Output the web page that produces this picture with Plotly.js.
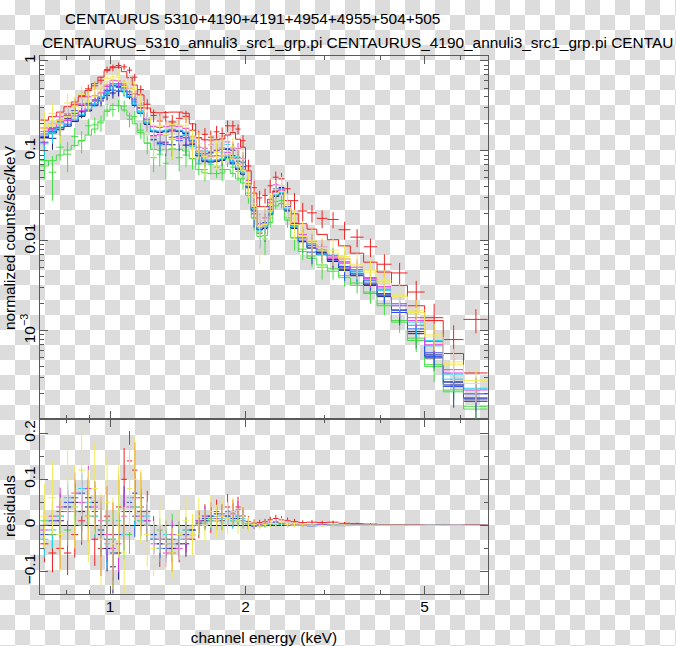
<!DOCTYPE html>
<html>
<head>
<meta charset="utf-8">
<script src="https://cdn.plot.ly/plotly-3.0.1.min.js"></script>
<style>
html,body{margin:0;padding:0;overflow:hidden;width:676px;height:646px;}
body{background:repeating-conic-gradient(#dcdcdc 0% 25%, #ffffff 0% 50%) 0 0/30px 30px;}
#chart{width:676px;height:646px;}
</style>
</head>
<body>
<div id="chart"></div>
<script>
// ---------- text ----------
const titleMain = 'CENTAURUS 5310+4190+4191+4954+4955+504+505';
const titleFiles = 'CENTAURUS_5310_annuli3_src1_grp.pi CENTAURUS_4190_annuli3_src1_grp.pi CENTAU';
const xTitle = 'channel energy (keV)';
const yTitleTop = 'normalized counts/sec/keV';
const yTitleBottom = 'residuals';

// ---------- tick labels ----------
const xTickVals = [1, 2, 5];
const xTickText = ['1', '2', '5'];
const xMinorVals = [0.7, 0.8, 0.9, 3, 4, 6];
const yTopTickVals = [0.001, 0.01, 0.1, 1];
const yTopTickText = ['10<sup>\u22123</sup>', '0.01', '0.1', '1'];
const yTopMinorVals = [0.0002,0.0003,0.0004,0.0005,0.0006,0.0007,0.0008,0.0009,
  0.002,0.003,0.004,0.005,0.006,0.007,0.008,0.009,
  0.02,0.03,0.04,0.05,0.06,0.07,0.08,0.09,
  0.2,0.3,0.4,0.5,0.6,0.7,0.8,0.9];
const yResTickVals = [-0.1, 0, 0.1, 0.2];
const yResTickText = ['\u22120.1', '0', '0.1', '0.2'];
const yResMinorVals = [-0.05, 0.05, 0.15];

// ---------- energy bins (keV) ----------
const binEdges = [0.70,0.73,0.76,0.79,0.82,0.85,0.88,0.91,0.94,0.97,1.00,1.03,1.06,1.09,1.12,1.15,1.19,1.23,1.27,1.31,
  1.35,1.40,1.45,1.50,1.55,1.60,1.65,1.70,1.75,1.80,1.85,1.90,1.95,2.00,2.06,2.12,2.18,2.24,2.30,2.37,
  2.44,2.52,2.62,2.74,2.88,3.04,3.22,3.42,3.66,3.92,4.22,4.58,5.00,5.50,6.10,6.90];

// ---------- models (normalized counts/sec/keV) ----------
const modelNavy = [0.140,0.158,0.172,0.188,0.212,0.242,0.278,0.318,0.380,0.465,
  0.530,0.522,0.462,0.395,0.320,0.262,0.198,0.163,0.160,0.163,
  0.167,0.165,0.156,0.127,0.088,0.076,0.075,0.076,0.078,0.084,
  0.072,0.062,0.055,0.039,0.0215,0.0132,0.0137,0.0195,0.0312,0.0332,
  0.0215,0.0137,0.0098,0.0083,0.0070,0.0059,0.0050,0.0041,0.0032,0.0024,
  0.0016,0.00098,0.00050,0.00025,0.000165];
const modelRed = [0.220,0.240,0.270,0.310,0.350,0.400,0.470,0.560,0.660,0.780,
  0.860,0.850,0.760,0.650,0.540,0.420,0.300,0.268,0.265,0.268,
  0.270,0.270,0.262,0.200,0.140,0.133,0.132,0.133,0.136,0.150,
  0.160,0.135,0.110,0.060,0.034,0.024,0.024,0.029,0.036,0.037,
  0.028,0.020,0.0155,0.0135,0.0118,0.0103,0.0088,0.0073,0.0058,0.0045,
  0.0032,0.0019,0.0013,0.00056,0.00034];
const modelGreen = [0.068,0.078,0.090,0.102,0.115,0.130,0.150,0.175,0.215,0.275,
  0.320,0.318,0.285,0.245,0.200,0.160,0.122,0.104,0.102,0.103,
  0.105,0.104,0.100,0.082,0.062,0.057,0.056,0.056,0.057,0.062,
  0.056,0.049,0.044,0.032,0.018,0.0112,0.0115,0.0160,0.0245,0.0260,
  0.0170,0.0108,0.0076,0.0064,0.0054,0.0046,0.0039,0.0032,0.0026,0.0019,
  0.00125,0.00078,0.00040,0.00021,0.000135];
const modelBlue = [0.145,0.165,0.180,0.195,0.220,0.250,0.285,0.325,0.390,0.470,
  0.535,0.525,0.470,0.405,0.330,0.270,0.205,0.168,0.165,0.168,
  0.172,0.170,0.160,0.130,0.090,0.078,0.077,0.078,0.080,0.086,
  0.074,0.064,0.057,0.040,0.022,0.0135,0.0140,0.020,0.032,0.034,
  0.022,0.0140,0.0100,0.0085,0.0072,0.0061,0.0052,0.0043,0.0034,0.0025,
  0.0017,0.00105,0.00052,0.00027,0.00018];
const modelCyan = [0.150,0.168,0.185,0.200,0.225,0.255,0.292,0.335,0.400,0.485,
  0.545,0.535,0.470,0.400,0.330,0.270,0.205,0.170,0.166,0.170,
  0.174,0.172,0.162,0.132,0.092,0.080,0.079,0.080,0.082,0.088,
  0.076,0.066,0.058,0.041,0.023,0.0140,0.0145,0.0205,0.0325,0.0345,
  0.0225,0.0145,0.0105,0.0090,0.0077,0.0065,0.0056,0.0046,0.0037,0.0028,
  0.0019,0.00125,0.00068,0.00029,0.00020];
const modelMagenta = [0.165,0.182,0.200,0.218,0.245,0.280,0.320,0.370,0.440,0.540,
  0.610,0.600,0.535,0.455,0.370,0.300,0.225,0.186,0.182,0.186,
  0.190,0.188,0.178,0.144,0.100,0.087,0.086,0.087,0.089,0.096,
  0.083,0.071,0.062,0.043,0.024,0.0145,0.0150,0.0215,0.0340,0.0360,
  0.0235,0.0150,0.0108,0.0093,0.0080,0.0068,0.0058,0.0048,0.0038,0.0029,
  0.0020,0.00130,0.00070,0.00034,0.00020];
const modelYellow = [0.180,0.200,0.220,0.240,0.270,0.305,0.350,0.405,0.485,0.590,
  0.665,0.655,0.580,0.490,0.395,0.315,0.235,0.192,0.188,0.192,
  0.196,0.193,0.182,0.146,0.100,0.086,0.085,0.086,0.088,0.094,
  0.081,0.070,0.061,0.042,0.024,0.0145,0.0152,0.0215,0.0335,0.0355,
  0.0235,0.0152,0.0112,0.0097,0.0084,0.0073,0.0063,0.0053,0.0044,0.0034,
  0.0024,0.00160,0.00085,0.00042,0.00026];

// ---------- residuals (data - model) ----------
const residNavy = [0.0,-0.02,0.01,0.04,0.05,0.03,0.06,0.05,-0.02,-0.05,
  -0.09,-0.06,0.0,0.03,0.07,0.04,0.0,-0.03,-0.04,-0.04,
  -0.05,-0.02,-0.04,-0.01,0.005,0.01,0.02,0.025,0.01,0.02,
  0.03,0.015,0.02,0.001,0.002,-0.001,0.0,0.003,0.004,0.006,
  0.001,0.002,0.0,0.0006,0.0004,0.0003,-0.0003,0.0002,0.0001,0.0001,
  0.0001,-0.00005,0.00004,0.00002,0.00001];
const residRed = [-0.04,-0.06,-0.05,-0.06,-0.02,0.01,0.02,-0.03,-0.05,0.02,
  -0.02,0.04,0.1,0.14,0.12,0.06,0.03,-0.02,-0.05,-0.03,
  -0.06,-0.04,-0.02,-0.03,0.0,0.02,0.01,0.03,0.02,0.04,
  0.03,0.04,0.02,0.008,0.005,0.006,0.008,0.012,0.015,0.012,
  0.01,0.008,0.006,0.007,0.006,0.007,0.0045,0.0037,0.0028,0.001,
  0.0012,0.0008,0.0001,0.00024,0.001];
const residGreen = [0.01,-0.02,0.02,-0.01,0.03,0.0,0.04,0.02,-0.01,0.01,
  -0.03,0.0,0.03,-0.02,0.04,0.01,0.0,-0.02,-0.01,-0.03,
  0.0,-0.02,-0.01,0.0,0.01,0.005,0.015,0.01,0.005,0.02,
  0.01,0.01,0.005,0.002,0.0,0.001,-0.001,0.002,0.003,0.002,
  0.001,0.0,0.0005,0.0004,-0.0003,0.0003,0.0002,0.0002,0.0001,0.0001,
  0.00005,0.00005,0.00002,0.00001,0.00001];
const residBlue = [-0.02,0.01,0.03,0.05,0.06,0.07,0.04,0.03,-0.01,-0.03,
  -0.06,-0.02,0.03,0.05,0.02,0.03,0.01,-0.02,-0.04,-0.05,
  -0.03,-0.04,-0.02,-0.01,0.01,0.015,0.02,0.01,0.025,0.02,
  0.015,0.02,0.01,0.003,-0.002,-0.001,0.002,0.004,0.006,0.004,
  0.002,0.001,0.001,-0.001,0.0005,0.0008,-0.0004,0.0003,0.0002,0.0001,
  -0.0001,0.0001,0.00005,-0.00003,0.00002];
const residCyan = [-0.03,-0.01,0.02,0.06,0.04,0.08,0.05,0.02,0.0,-0.04,
  -0.03,0.01,-0.02,0.06,0.04,0.01,0.02,-0.03,-0.05,-0.02,
  -0.04,-0.03,-0.01,-0.02,0.0,0.02,0.01,0.02,0.015,0.03,
  0.01,0.02,0.015,0.002,0.001,-0.001,0.001,0.003,0.005,0.003,
  0.001,0.0,0.0005,0.0008,-0.0006,0.0004,0.0003,-0.0002,0.0002,0.0002,
  0.0001,-0.0001,0.0001,0.00004,0.00003];
const residMagenta = [-0.01,0.02,0.04,0.03,0.07,0.05,0.08,0.04,0.01,-0.02,
  -0.05,-0.04,0.02,0.04,0.06,0.02,0.01,-0.04,-0.03,-0.06,
  -0.02,-0.05,-0.03,-0.02,0.01,0.02,0.03,0.015,0.02,0.03,
  0.025,0.035,0.02,0.004,0.0,0.001,0.003,0.005,0.008,0.005,
  0.002,0.001,0.001,0.0006,0.0005,-0.0004,0.0005,0.0003,0.0001,0.0002,
  -0.0001,0.0001,0.00006,0.00003,0.00002];
const residYellow = [0.02,0.06,-0.02,0.1,0.04,0.12,0.02,0.08,-0.03,0.05,
  -0.04,0.03,-0.06,0.08,0.1,0.04,-0.02,-0.05,0.0,-0.04,
  -0.06,-0.02,0.01,-0.02,0.02,0.0,0.03,0.01,0.02,0.015,
  0.03,0.01,0.02,0.003,0.002,-0.002,0.002,0.004,0.004,0.006,
  0.002,0.001,0.001,0.0005,-0.0005,0.0006,0.0004,0.0002,0.0003,0.0002,
  0.0001,0.0001,0.00005,0.00003,0.00002];

// ---------- 1-sigma errors ----------
const errNavy = [0.034,0.035,0.037,0.04,0.041,0.042,0.044,0.046,0.048,0.05,
  0.058,0.058,0.054,0.05,0.045,0.04,0.035,0.03,0.03,0.03,
  0.03,0.029,0.028,0.025,0.022,0.02,0.02,0.02,0.02,0.02,
  0.018,0.016,0.014,0.01,0.006,0.004,0.004,0.005,0.006,0.006,
  0.005,0.0035,0.0025,0.002,0.0017,0.0014,0.0012,0.001,0.0008,0.0006,
  0.00045,0.0003,0.00018,0.0001,0.00007];
const errRed = [0.04,0.042,0.045,0.048,0.05,0.052,0.055,0.058,0.06,0.065,
  0.07,0.07,0.068,0.065,0.06,0.055,0.045,0.04,0.04,0.04,
  0.04,0.04,0.038,0.033,0.028,0.026,0.026,0.026,0.026,0.028,
  0.026,0.022,0.02,0.012,0.008,0.006,0.006,0.007,0.008,0.008,
  0.007,0.006,0.005,0.0045,0.004,0.0035,0.003,0.0025,0.002,0.0016,
  0.0013,0.0009,0.0006,0.00035,0.0004];
const errGreen = [0.03,0.03,0.032,0.034,0.035,0.036,0.038,0.04,0.042,0.045,
  0.05,0.05,0.046,0.042,0.038,0.034,0.03,0.026,0.025,0.025,
  0.025,0.025,0.024,0.02,0.018,0.016,0.016,0.016,0.016,0.016,
  0.015,0.013,0.012,0.008,0.005,0.0035,0.0035,0.004,0.005,0.005,
  0.004,0.003,0.002,0.0017,0.0014,0.0012,0.001,0.0008,0.0007,0.0005,
  0.00035,0.00025,0.00015,0.00008,0.00006];
const errBlue = [0.035,0.035,0.038,0.04,0.04,0.042,0.045,0.045,0.048,0.05,
  0.06,0.06,0.055,0.05,0.045,0.04,0.035,0.03,0.03,0.03,
  0.03,0.03,0.028,0.025,0.022,0.02,0.02,0.02,0.02,0.02,
  0.018,0.016,0.014,0.01,0.006,0.004,0.004,0.005,0.006,0.006,
  0.005,0.0035,0.0025,0.002,0.0017,0.0014,0.0012,0.001,0.0008,0.0006,
  0.00045,0.0003,0.00018,0.0001,0.00007];
const errCyan = [0.04,0.038,0.04,0.042,0.042,0.045,0.045,0.048,0.05,0.052,
  0.058,0.058,0.055,0.05,0.045,0.04,0.035,0.032,0.03,0.03,
  0.03,0.03,0.028,0.025,0.022,0.02,0.02,0.02,0.02,0.02,
  0.018,0.016,0.014,0.01,0.006,0.004,0.004,0.005,0.006,0.006,
  0.005,0.0035,0.0026,0.0021,0.0018,0.0015,0.0012,0.001,0.0008,0.0006,
  0.00045,0.0003,0.0002,0.00012,0.00008];
const errMagenta = [0.04,0.04,0.042,0.044,0.045,0.048,0.05,0.05,0.052,0.055,
  0.062,0.062,0.058,0.052,0.048,0.042,0.036,0.032,0.032,0.031,
  0.031,0.03,0.029,0.026,0.023,0.021,0.021,0.021,0.021,0.021,
  0.019,0.017,0.015,0.011,0.0065,0.0045,0.0045,0.0055,0.0065,0.0065,
  0.0052,0.0036,0.0027,0.0022,0.0018,0.0015,0.0013,0.0011,0.0009,0.00065,
  0.0005,0.00032,0.0002,0.00012,0.00008];
const errYellow = [0.07,0.08,0.08,0.09,0.09,0.1,0.1,0.1,0.1,0.1,
  0.1,0.1,0.1,0.095,0.09,0.08,0.07,0.06,0.06,0.06,
  0.055,0.055,0.05,0.045,0.04,0.035,0.035,0.035,0.035,0.035,
  0.03,0.028,0.025,0.015,0.009,0.007,0.007,0.008,0.01,0.01,
  0.008,0.006,0.004,0.0035,0.003,0.0026,0.0022,0.0018,0.0015,0.0011,
  0.0008,0.0005,0.0003,0.00018,0.00012];

// ---------- datasets (drawing order) ----------
const datasets = [
  {color: '#1c1c80', model: modelNavy,    resid: residNavy,    err: errNavy},
  {color: '#ee2020', model: modelRed,     resid: residRed,     err: errRed},
  {color: '#44dd44', model: modelGreen,   resid: residGreen,   err: errGreen},
  {color: '#2a4cf0', model: modelBlue,    resid: residBlue,    err: errBlue},
  {color: '#22d4f2', model: modelCyan,    resid: residCyan,    err: errCyan},
  {color: '#e63ce6', model: modelMagenta, resid: residMagenta, err: errMagenta},
  {color: '#f2ea5a', model: modelYellow,  resid: residYellow,  err: errYellow}
];

// bin centres / half widths derived from the edges
const binCentres = binEdges.slice(0, -1).map((e, i) => (e + binEdges[i + 1]) / 2);
const binHalf = binEdges.slice(0, -1).map((e, i) => (binEdges[i + 1] - e) / 2);

const hiddenMarker = {size: 2, color: 'rgba(0,0,0,0)', line: {width: 0}};
const traces = [];
datasets.forEach(ds => {
  const dataVals = ds.model.map((m, i) => m + ds.resid[i]);
  traces.push({
    type: 'scatter', mode: 'markers', xaxis: 'x2', yaxis: 'y',
    x: binCentres, y: dataVals, marker: hiddenMarker,
    error_x: {type: 'data', symmetric: true, array: binHalf, thickness: 1, width: 0, color: ds.color},
    error_y: {type: 'data', symmetric: true, array: ds.err, thickness: 1, width: 0, color: ds.color},
    hoverinfo: 'skip'
  });
  traces.push({
    type: 'scatter', mode: 'lines', xaxis: 'x2', yaxis: 'y',
    x: binEdges, y: ds.model.concat([ds.model[ds.model.length - 1]]),
    line: {shape: 'hv', width: 1, color: ds.color},
    hoverinfo: 'skip'
  });
  traces.push({
    type: 'scatter', mode: 'markers', xaxis: 'x', yaxis: 'y2',
    x: binCentres, y: ds.resid, marker: hiddenMarker,
    error_x: {type: 'data', symmetric: true, array: binHalf, thickness: 1, width: 0, color: ds.color},
    error_y: {type: 'data', symmetric: true, array: ds.err, thickness: 1, width: 0, color: ds.color},
    hoverinfo: 'skip'
  });
});

const frameColor = '#5a5a5a';
const fontFam = '"Liberation Sans", Arial, Helvetica, sans-serif';
const fs = 15.4;
const axisBase = {
  showline: true, linecolor: frameColor, linewidth: 1, mirror: 'ticks',
  ticks: 'inside', ticklen: 8, tickwidth: 1, tickcolor: frameColor,
  showgrid: false, zeroline: false, tickfont: {size: fs, family: fontFam, color: '#000'}
};
const minorBase = {ticks: 'inside', ticklen: 4, tickwidth: 1, tickcolor: frameColor, showgrid: false, tickmode: 'array'};

const xRange = [Math.log10(0.699), Math.log10(6.915)];
const split = 175 / 538;
const plotLeft = 40;
const yTitleX = 9.5;

const layout = {
  width: 676, height: 646,
  margin: {l: plotLeft, r: 188, t: 56, b: 52, pad: 0},
  paper_bgcolor: 'rgba(0,0,0,0)', plot_bgcolor: 'rgba(0,0,0,0)',
  showlegend: false, hovermode: false,
  font: {family: fontFam, size: fs, color: '#000'},
  xaxis: Object.assign({}, axisBase, {
    domain: [0, 1], anchor: 'y2', type: 'log', range: xRange,
    tickmode: 'array', tickvals: xTickVals, ticktext: xTickText, ticklabelstandoff: -1,
    minor: Object.assign({}, minorBase, {tickvals: xMinorVals}),
    title: {text: xTitle, font: {size: fs}, standoff: 17}
  }),
  xaxis2: Object.assign({}, axisBase, {
    domain: [0, 1], anchor: 'y', type: 'log', range: xRange, matches: 'x',
    tickmode: 'array', tickvals: xTickVals, ticktext: xTickText, showticklabels: false,
    minor: Object.assign({}, minorBase, {tickvals: xMinorVals})
  }),
  yaxis: Object.assign({}, axisBase, {
    domain: [split, 1], anchor: 'x2', type: 'log', range: [-3.98, 0.055],
    tickmode: 'array', tickvals: yTopTickVals, ticktext: yTopTickText, tickangle: -90,
    ticklabelstandoff: -2,
    minor: Object.assign({}, minorBase, {tickvals: yTopMinorVals})
  }),
  yaxis2: Object.assign({}, axisBase, {
    domain: [0, split], anchor: 'x', range: [-0.149, 0.231],
    tickmode: 'array', tickvals: yResTickVals, ticktext: yResTickText, tickangle: -90,
    ticklabelstandoff: -2,
    zeroline: true, zerolinecolor: '#1c1c70', zerolinewidth: 1,
    minor: Object.assign({}, minorBase, {tickvals: yResMinorVals})
  }),
  annotations: [
    {text: titleMain, xref: 'paper', yref: 'paper', x: (63 - plotLeft) / 448, y: (594 - 18) / 538,
     xanchor: 'left', yanchor: 'middle', showarrow: false, font: {size: fs, color: '#000'}},
    {text: titleFiles, xref: 'paper', yref: 'paper', x: 0, y: (594 - 43) / 538,
     xanchor: 'left', yanchor: 'middle', showarrow: false, font: {size: fs, color: '#000'}},
    {text: yTitleTop, xref: 'paper', yref: 'paper', x: 0, xshift: yTitleX - plotLeft,
     y: (split + 1) / 2, xanchor: 'center', yanchor: 'middle', textangle: -90,
     showarrow: false, font: {size: fs, color: '#000'}},
    {text: yTitleBottom, xref: 'paper', yref: 'paper', x: 0, xshift: yTitleX - plotLeft,
     y: split / 2, xanchor: 'center', yanchor: 'middle', textangle: -90,
     showarrow: false, font: {size: fs, color: '#000'}}
  ]
};

Plotly.newPlot('chart', traces, layout, {staticPlot: true, displayModeBar: false});
</script>
</body>
</html>
